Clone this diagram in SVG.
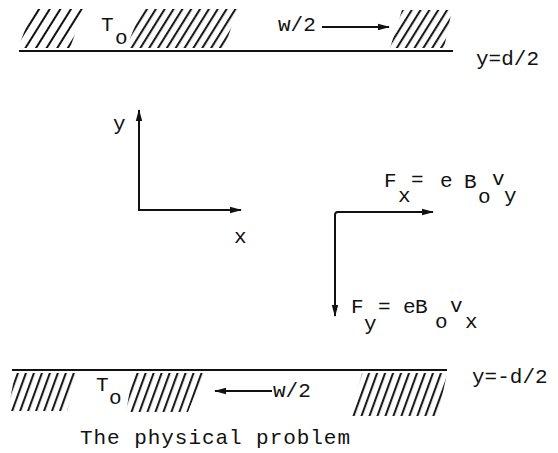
<svg xmlns="http://www.w3.org/2000/svg" width="558" height="453" viewBox="0 0 558 453">
<style>
.t{font-family:"Liberation Mono","DejaVu Sans Mono",monospace;font-size:21px;fill:#111}
.ln{stroke:#111;stroke-width:2;fill:none}
.ar{stroke:#111;stroke-width:2;fill:none}
</style>
<defs>
<pattern id="hTop" patternUnits="userSpaceOnUse" width="7.5" height="20" patternTransform="rotate(32)">
<line x1="2" y1="0" x2="2" y2="20" stroke="#111" stroke-width="2"/>
</pattern>
<pattern id="hTopW" patternUnits="userSpaceOnUse" width="9" height="20" patternTransform="rotate(32)">
<line x1="2" y1="0" x2="2" y2="20" stroke="#111" stroke-width="2"/>
</pattern>
<pattern id="hBot" patternUnits="userSpaceOnUse" width="7.5" height="20" patternTransform="rotate(20)">
<line x1="2" y1="0" x2="2" y2="20" stroke="#111" stroke-width="2"/>
</pattern>
<marker id="ah" markerUnits="userSpaceOnUse" markerWidth="12" markerHeight="8" refX="11" refY="4" orient="auto">
<path d="M0,0.8 L12,4 L0,7.2 z" fill="#111"/>
</marker>
</defs>
<rect width="558" height="453" fill="#fff"/>

<g id="top-wall">
<polygon points="18,48 33,9 84,9 70,48" fill="url(#hTopW)"/>
<polygon points="126,48 142,9 238,9 224,48" fill="url(#hTop)"/>
<polygon points="390,48 402,10 452,10 444,48" fill="url(#hTop)"/>
<line class="ln" x1="19" y1="51" x2="453" y2="51"/>
<text class="t" x="101" y="31">T</text>
<text class="t" x="115" y="44">o</text>
<text class="t" x="278" y="31">w/2</text>
<text class="t" x="476" y="65">y=d/2</text>
</g>

<g id="bottom-wall">
<polygon points="15,373 79,373 67,411 8,411" fill="url(#hBot)"/>
<polygon points="133,373 204,373 188,412 126,412" fill="url(#hBot)"/>
<polygon points="362,373 447,373 438,416 350,416" fill="url(#hBot)"/>
<line class="ln" x1="12" y1="370" x2="447" y2="370"/>
<text class="t" x="96" y="391">T</text>
<text class="t" x="109" y="404">o</text>
<text class="t" x="273" y="397">w/2</text>
<text class="t" x="472" y="383">y=-d/2</text>
</g>

<g id="axes-labels">
<text class="t" x="113" y="130">y</text>
<text class="t" x="234" y="243">x</text>
</g>

<g id="force-x">
<text class="t" x="384" y="187">F</text>
<text class="t" x="398" y="202">x</text>
<text class="t" x="411" y="186">=</text>
<text class="t" x="440" y="187">e</text>
<text class="t" x="464" y="188">B</text>
<text class="t" x="478" y="203">o</text>
<text class="t" x="492" y="185">v</text>
<text class="t" x="504" y="202">y</text>
</g>

<g id="force-y">
<text class="t" x="351" y="313">F</text>
<text class="t" x="364" y="330">y</text>
<text class="t" x="378" y="313">=</text>
<text class="t" x="403" y="313">e</text>
<text class="t" x="415" y="313">B</text>
<text class="t" x="435" y="328">o</text>
<text class="t" x="450" y="312">v</text>
<text class="t" x="465" y="328">x</text>
</g>

<g id="connectors">
<line class="ar" x1="322" y1="27" x2="389" y2="27" marker-end="url(#ah)"/>
<line class="ar" x1="272" y1="391" x2="215" y2="391" marker-end="url(#ah)"/>
<line class="ar" x1="139" y1="210" x2="139" y2="110" marker-end="url(#ah)"/>
<line class="ar" x1="138" y1="210" x2="241" y2="210" marker-end="url(#ah)"/>
<path class="ar" d="M335,300 V215 Q335,212 338,212 H433" marker-end="url(#ah)"/>
<line class="ar" x1="335" y1="299" x2="335" y2="316" marker-end="url(#ah)"/>
</g>

<text class="t" x="80" y="444" textLength="270" lengthAdjust="spacing">The physical problem</text>
</svg>
